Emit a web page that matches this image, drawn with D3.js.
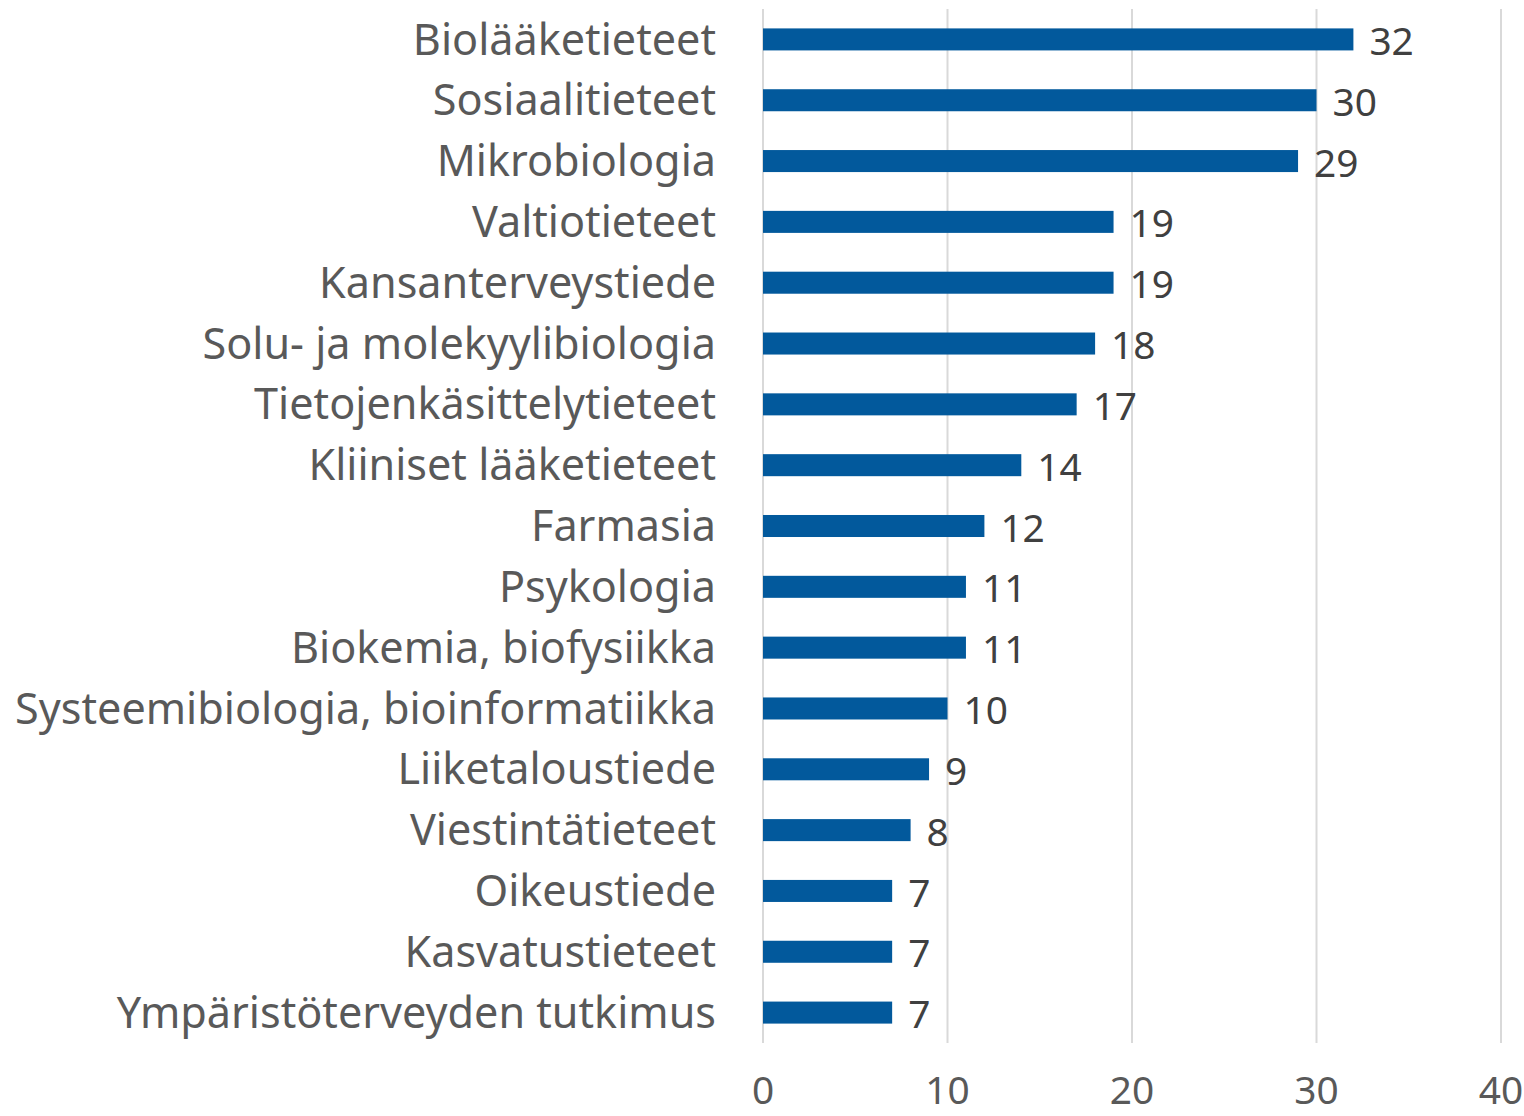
<!DOCTYPE html>
<html><head><meta charset="utf-8">
<script src="https://cdn.jsdelivr.net/npm/d3@7"></script>
<style>body{margin:0;background:#fff}svg{display:block}</style>
</head><body>
<svg id="c" width="1524" height="1116"></svg>
<script>
const categories = ["Biolääketieteet","Sosiaalitieteet","Mikrobiologia","Valtiotieteet","Kansanterveystiede","Solu- ja molekyylibiologia","Tietojenkäsittelytieteet","Kliiniset lääketieteet","Farmasia","Psykologia","Biokemia, biofysiikka","Systeemibiologia, bioinformatiikka","Liiketaloustiede","Viestintätieteet","Oikeustiede","Kasvatustieteet","Ympäristöterveyden tutkimus"];
const values = [32,30,29,19,19,18,17,14,12,11,11,10,9,8,7,7,7];
const xTicks = [0,10,20,30,40];

const svg = d3.select("#c");
const font = "'Noto Sans', 'Source Sans Pro', sans-serif";
const x = d3.scaleLinear().domain([0,40]).range([763,1501]);
const y = d3.scaleBand().domain(categories).range([9,1043]).paddingInner(0.638).paddingOuter(0.319);

svg.append("g").selectAll("line").data(xTicks).join("line")
  .attr("x1",d=>x(d)).attr("x2",d=>x(d)).attr("y1",9).attr("y2",1043)
  .attr("stroke","#d9d9d9").attr("stroke-width",2);

svg.append("g").selectAll("rect").data(values).join("rect")
  .attr("x",x(0)).attr("y",(d,i)=>y(categories[i]))
  .attr("width",d=>x(d)-x(0)).attr("height",y.bandwidth())
  .attr("fill","#02599c");

const lab = svg.append("g").selectAll("text").data(categories).join("text")
  .attr("x",716).attr("y",d=>y(d)+y.bandwidth()/2)
  .attr("dy","0.35em").attr("text-anchor","end")
  .attr("font-family",font).attr("font-size",38).attr("fill","#595959")
  .text(d=>d);
const maxW = d3.max(lab.nodes(), n=>n.getComputedTextLength());
const fs = 38*701/maxW;
lab.attr("font-size",fs);

svg.append("g").selectAll("text").data(values).join("text")
  .attr("x",d=>x(d)+16).attr("y",(d,i)=>y(categories[i])+y.bandwidth()/2+2)
  .attr("dy","0.35em").attr("text-anchor","start")
  .attr("font-family",font).attr("font-size",fs*0.9).attr("fill","#404040")
  .text(d=>d);

svg.append("g").selectAll("text").data(xTicks).join("text")
  .attr("x",d=>x(d)).attr("y",1104).attr("text-anchor","middle")
  .attr("font-family",font).attr("font-size",fs*0.9).attr("fill","#595959")
  .text(d=>d);
</script>
</body></html>
